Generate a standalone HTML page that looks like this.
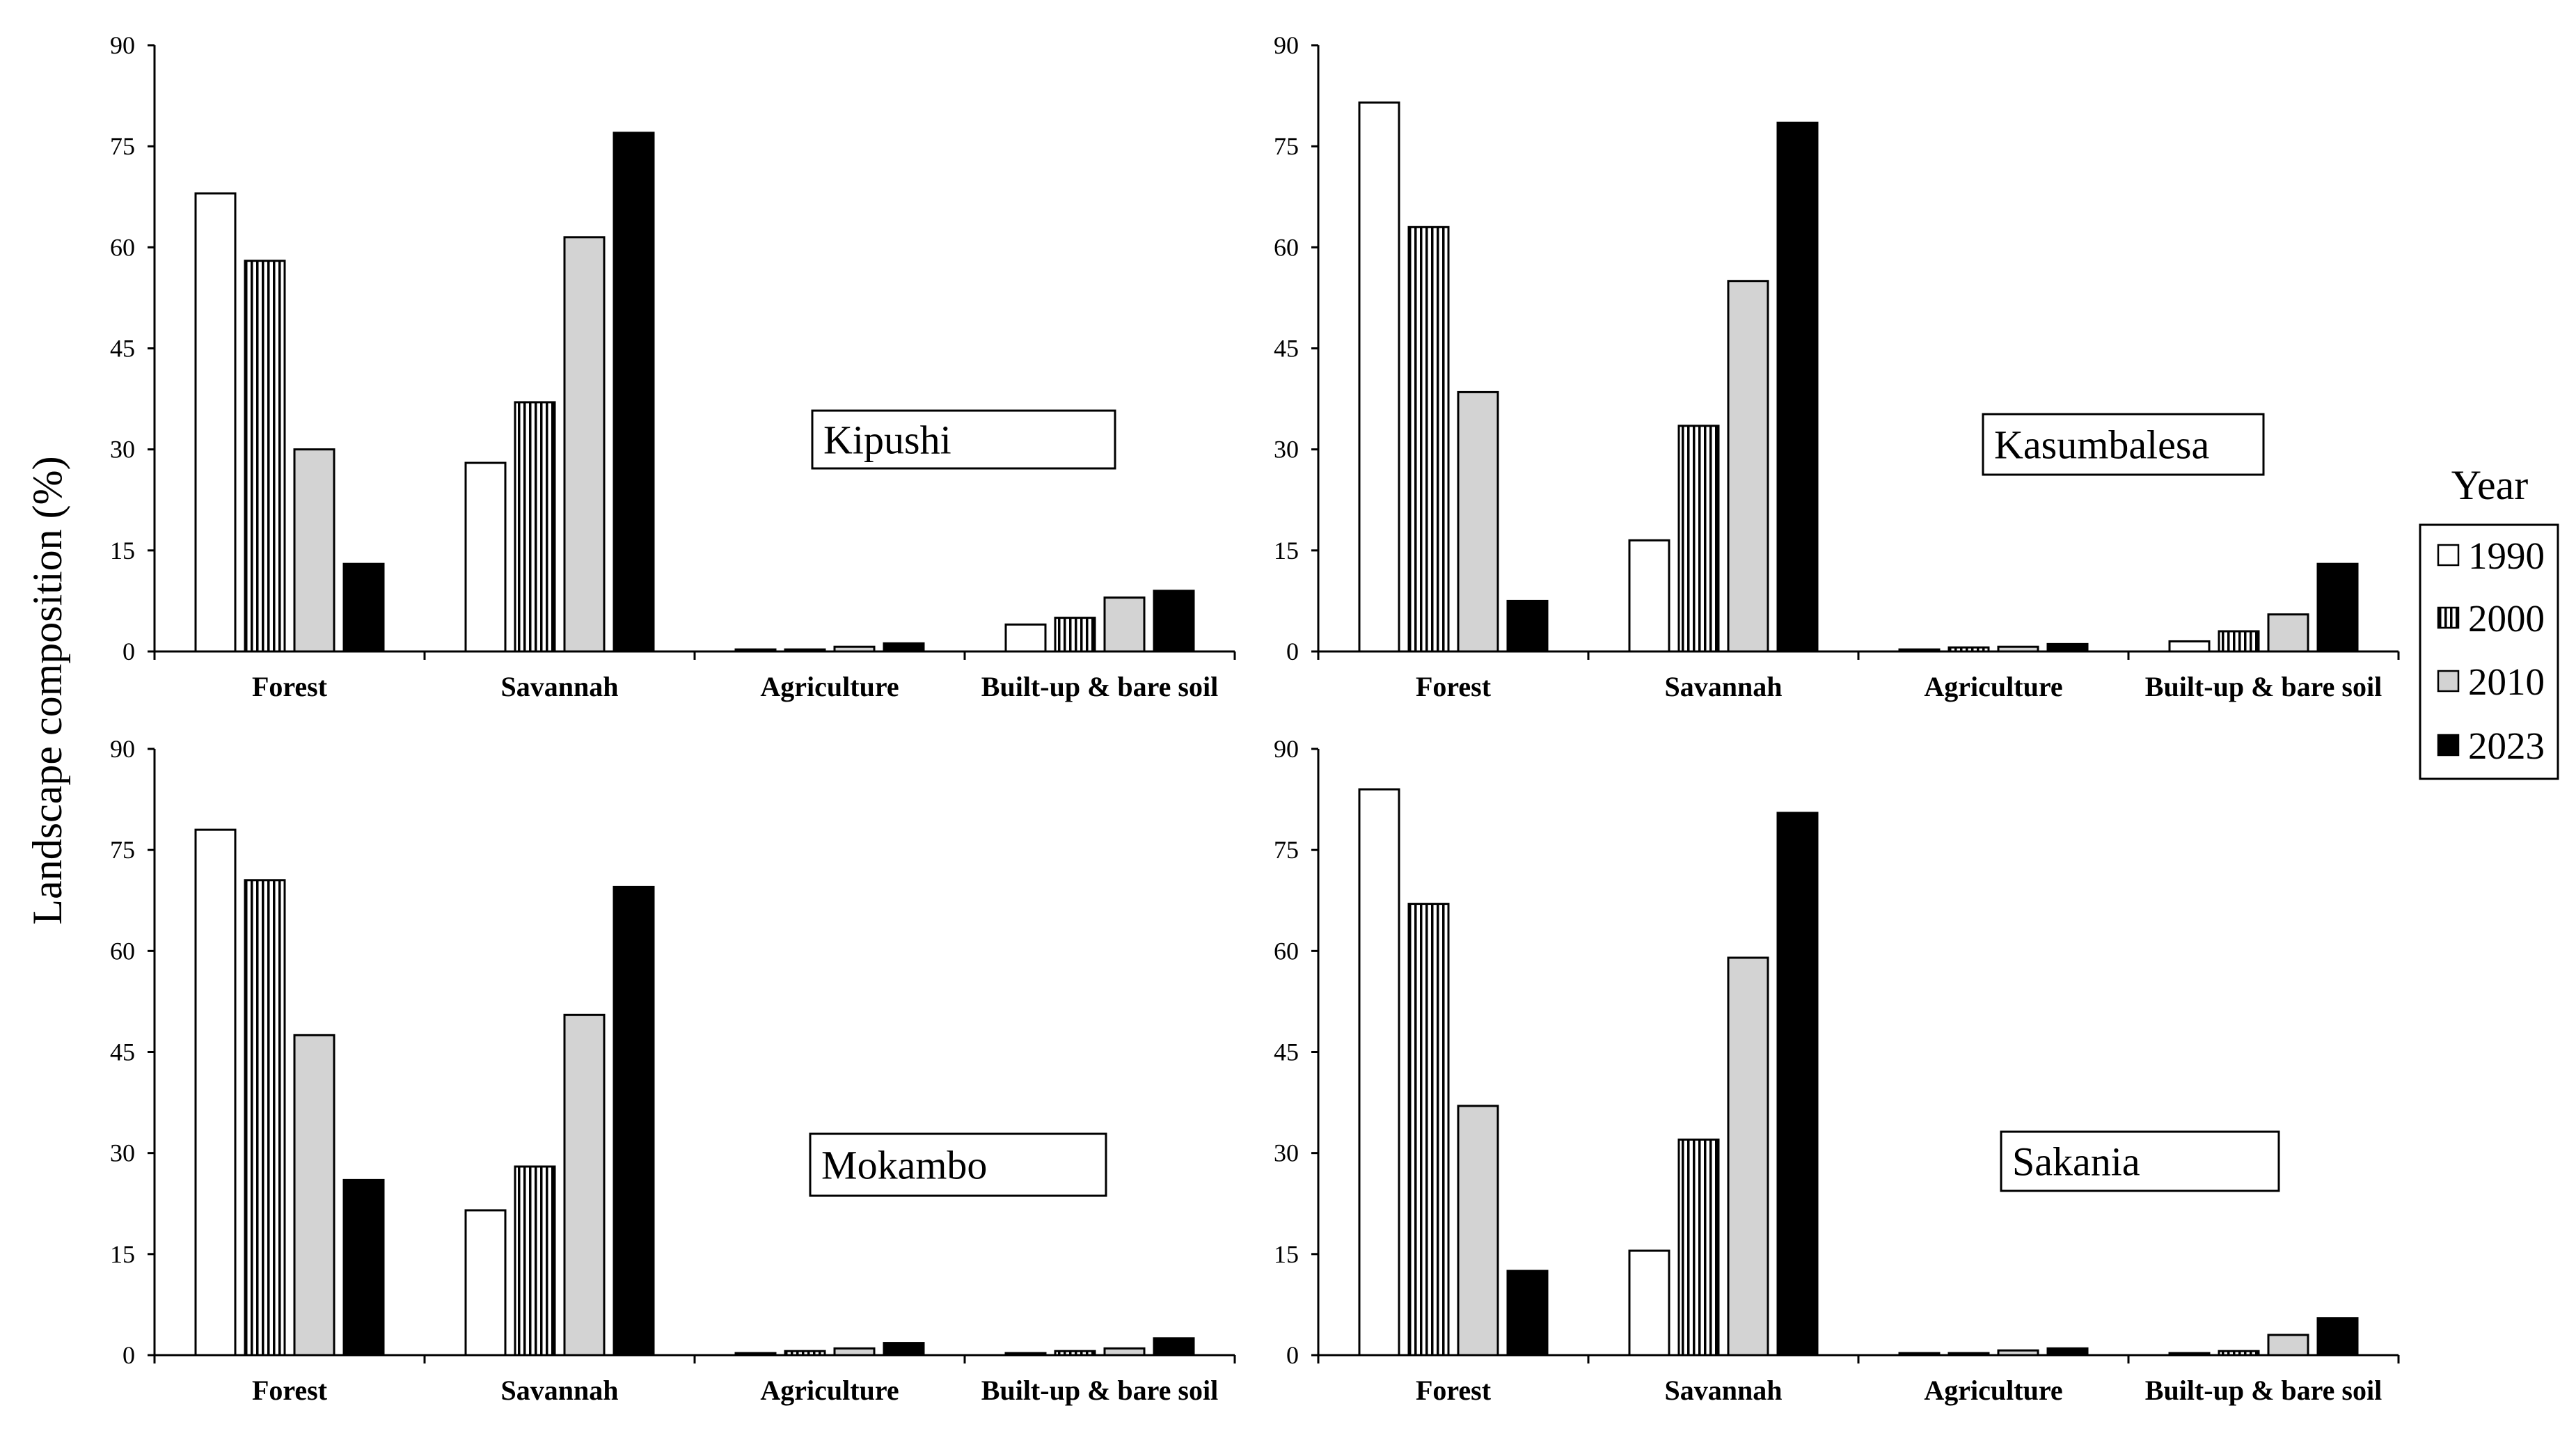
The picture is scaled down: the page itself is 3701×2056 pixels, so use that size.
<!DOCTYPE html>
<html><head><meta charset="utf-8"><style>
html,body{margin:0;padding:0;background:#fff}
svg{display:block}
text{font-family:"Liberation Serif",serif;fill:#000}
</style></head><body>
<svg id="chart" width="3701" height="2056" viewBox="0 0 3701 2056" xmlns="http://www.w3.org/2000/svg">
<defs>
<pattern id="hatch" patternUnits="userSpaceOnUse" width="8" height="8">
<rect width="8" height="8" fill="#fff"/><rect x="0" width="3.5" height="8" fill="#000"/>
</pattern>
</defs>
<text x="0" y="0" font-size="60" text-anchor="middle" transform="translate(88,992) rotate(-90)">Landscape composition (%)</text>
<g>
<text x="3577" y="717" font-size="60" text-anchor="middle">Year</text>
<rect x="3477" y="754" width="198" height="365" fill="#fff" stroke="#000" stroke-width="3"/>
</g>
</svg>
<script>
const categories = ["Forest","Savannah","Agriculture","Built-up & bare soil"];
const years = ["1990","2000","2010","2023"];
const yTicks = [0,15,30,45,60,75,90];
const kipushi = [[68,28,0.3,4],[58,37,0.3,5],[30,61.5,0.7,8],[13,77,1.2,9]];
const kasumbalesa = [[81.5,16.5,0.3,1.5],[63,33.5,0.6,3],[38.5,55,0.7,5.5],[7.5,78.5,1.1,13]];
const mokambo = [[78,21.5,0.3,0.3],[70.5,28,0.6,0.6],[47.5,50.5,1,1],[26,69.5,1.8,2.5]];
const sakania = [[84,15.5,0.3,0.3],[67,32,0.3,0.6],[37,59,0.7,3],[12.5,80.5,1,5.5]];
const fills = ["#fff","url(#hatch)","#d3d3d3","#000"];
const NS="http://www.w3.org/2000/svg";
const svg=document.getElementById('chart');
function mk(tag,attrs,parent){const e=document.createElementNS(NS,tag);for(const k in attrs)e.setAttribute(k,attrs[k]);(parent||svg).appendChild(e);return e;}
const panels=[
 {name:"Kipushi",data:kipushi,x0:222,y0:936,box:[1167,590,435,83]},
 {name:"Kasumbalesa",data:kasumbalesa,x0:1894,y0:936,box:[2849,595,403,87]},
 {name:"Mokambo",data:mokambo,x0:222,y0:1947,box:[1164,1629,425,89]},
 {name:"Sakania",data:sakania,x0:1894,y0:1947,box:[2875,1626,399,85]}
];
const W=1552,H=871,catW=W/4,barW=57,barStep=71;
panels.forEach(p=>{
 const g=mk('g',{});
 
 
 const ys=v=>p.y0-v/90*H;
 const xs=(c,s)=>p.x0+c*catW+(catW-(3*barStep+barW))/2+s*barStep;
 p.data.forEach((ser,s)=>ser.forEach((v,c)=>{
  const r=mk('rect',{x:xs(c,s),y:ys(v),width:barW,height:p.y0-ys(v),fill:fills[s],stroke:'#000','stroke-width':3},g);
  
  
 }));
 const ya=mk('line',{x1:p.x0,y1:p.y0,x2:p.x0,y2:ys(90),stroke:'#000','stroke-width':3},g);
 
 
 yTicks.forEach(t=>{
  mk('line',{x1:p.x0-10,y1:ys(t),x2:p.x0,y2:ys(t),stroke:'#000','stroke-width':3},g);
  const tx=mk('text',{x:p.x0-28,y:ys(t)+12,'font-size':36,'text-anchor':'end'},g);
  tx.textContent=t;
  
  
 });
 const xa=mk('line',{x1:p.x0,y1:p.y0,x2:p.x0+W,y2:p.y0,stroke:'#000','stroke-width':3},g);
 
 
 for(let i=0;i<=4;i++)mk('line',{x1:p.x0+i*catW,y1:p.y0,x2:p.x0+i*catW,y2:p.y0+12,stroke:'#000','stroke-width':3},g);
 categories.forEach((c,i)=>{
  const tx=mk('text',{x:p.x0+(i+0.5)*catW,y:p.y0+64,'font-size':40,'font-weight':'bold','text-anchor':'middle'},g);
  tx.textContent=c;
  
  
 });
 const b=p.box;
 const br=mk('rect',{x:b[0],y:b[1],width:b[2],height:b[3],fill:'#fff',stroke:'#000','stroke-width':3},g);
 
 
 const bt=mk('text',{x:b[0]+16,y:b[1]+b[3]/2+20,'font-size':58},g);
 bt.textContent=p.name;
 
 
});
const legY=[798,888,979,1071];
years.forEach((y,i)=>{
 const r=mk('rect',{x:3503,y:legY[i]-15,width:29,height:29,fill:fills[i],stroke:'#000','stroke-width':2.5});
 
 
 const t=mk('text',{x:3546,y:legY[i]+19,'font-size':55});
 t.textContent=y;
 
 
});
</script>
</body></html>
